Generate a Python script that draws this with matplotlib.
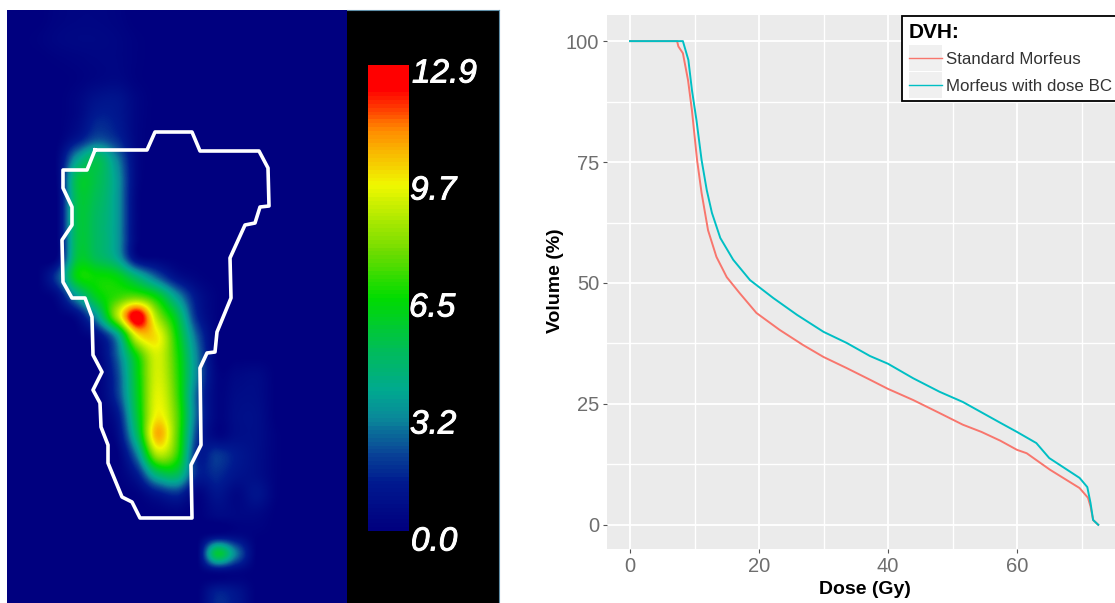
import numpy as np
import matplotlib
matplotlib.use("Agg")
import matplotlib.pyplot as plt
import matplotlib.patheffects as pe
from matplotlib.colors import LinearSegmentedColormap
from matplotlib.legend_handler import HandlerLine2D
from matplotlib.lines import Line2D
from matplotlib.patches import Rectangle

plt.rcParams['font.family'] = ['Liberation Sans', 'DejaVu Sans']

# dose map, cells of about 20 px, rows from the top
dose_grid = [
    [0, 0, .2, .3, .3, .2, 0, 0, 0, 0, 0, 0, 0, 0, 0, 0, 0],
    [0, .1, .3, .4, .4, .3, .1, 0, 0, 0, 0, 0, 0, 0, 0, 0, 0],
    [0, 0, .1, .2, .3, .3, .1, 0, 0, 0, 0, 0, 0, 0, 0, 0, 0],
    [0, 0, 0, .1, .3, .4, .1, 0, 0, 0, 0, 0, 0, 0, 0, 0, 0],
    [0, 0, 0, .3, .9, 1.0, .3, 0, 0, 0, 0, 0, 0, 0, 0, 0, 0],
    [0, 0, 0, .4, 1.4, 1.2, .3, 0, 0, 0, 0, 0, 0, 0, 0, 0, 0],
    [0, 0, 0, 1.0, 2.2, 1.6, .3, 0, 0, 0, 0, 0, 0, 0, 0, 0, 0],
    [0, 0, .2, 3.5, 5.0, 3.0, .4, 0, 0, 0, 0, 0, 0, 0, 0, 0, 0],
    [0, 0, .2, 5.2, 5.2, 3.5, .4, 0, 0, 0, 0, 0, 0, 0, 0, 0, 0],
    [0, 0, .1, 5.2, 5.0, 3.5, .3, 0, 0, 0, 0, 0, 0, 0, 0, 0, 0],
    [0, 0, .1, 5.2, 4.8, 3.5, .3, 0, 0, 0, 0, 0, 0, 0, 0, 0, 0],
    [0, 0, .1, 5.2, 4.8, 3.5, .3, 0, 0, 0, 0, 0, 0, 0, 0, 0, 0],
    [0, 0, .2, 5.4, 5.0, 3.8, .5, .1, 0, 0, 0, 0, 0, 0, 0, 0, 0],
    [0, 0, 2.0, 6.2, 6.5, 6.2, 4.5, 2.5, .8, .2, 0, 0, 0, 0, 0, 0, 0],
    [0, 0, .5, 3.5, 6.0, 7.0, 7.5, 6.2, 3.5, 1.0, .1, 0, 0, 0, 0, 0, 0],
    [0, 0, 0, .6, 3.5, 8.5, 12.9, 8.5, 5.5, 1.5, .1, 0, 0, 0, 0, 0, 0],
    [0, 0, 0, 0, .7, 3.5, 9.5, 9.8, 6.4, 2.5, .1, 0, 0, 0, 0, 0, 0],
    [0, 0, 0, 0, .1, 2.5, 6.5, 9.2, 6.8, 3.0, .1, 0, 0, 0, 0, 0, 0],
    [0, 0, 0, 0, 0, 2.0, 6.0, 9.2, 7.0, 3.0, .3, .4, .5, 0, 0, 0, 0],
    [0, 0, 0, 0, 0, 1.8, 5.8, 9.4, 7.2, 2.5, .3, .6, .6, 0, 0, 0, 0],
    [0, 0, 0, 0, 0, 1.0, 5.5, 9.7, 7.5, 2.5, .3, .7, .7, 0, 0, 0, 0],
    [0, 0, 0, 0, 0, .5, 4.8, 10.6, 7.5, 2.0, .3, .7, .7, .1, 0, 0, 0],
    [0, 0, 0, 0, 0, 0, 3.0, 8.5, 7.0, 1.5, 1.8, 1.2, .7, .1, 0, 0, 0],
    [0, 0, 0, 0, 0, 0, 1.2, 4.5, 5.0, 1.5, 1.6, 1.0, .7, .1, 0, 0, 0],
    [0, 0, 0, 0, 0, 0, .1, 1.0, 1.6, .2, 1.0, .4, 1.0, .1, 0, 0, 0],
    [0, 0, 0, 0, 0, 0, 0, 0, .1, 0, .5, .4, .4, 0, 0, 0, 0],
    [0, 0, 0, 0, 0, 0, 0, 0, 0, 0, .2, .3, .1, 0, 0, 0, 0],
    [0, 0, 0, 0, 0, 0, 0, 0, 0, 0, 5.5, 2.8, 0, 0, 0, 0, 0],
    [0, 0, 0, 0, 0, 0, 0, 0, 0, 0, .2, .2, 0, 0, 0, 0, 0],
    [0, 0, 0, 0, 0, 0, 0, 0, 0, 0, 1.4, 1.0, 0, 0, 0, 0, 0],
]

# outline of the structure, in picture pixels
outline_x = [95, 147, 155, 192, 200, 259, 268, 269, 260, 255, 245, 230, 231, 217, 215, 207, 200, 201, 191, 192,
             140, 132, 122, 108, 108, 101, 100, 93, 102, 93, 92, 85, 72, 63, 62, 72, 72, 63, 63, 87, 95]
outline_y = [150, 150, 132, 132, 151, 151, 168, 206, 207, 223, 225, 258, 298, 332, 352, 353, 368, 445, 465, 518,
             518, 502, 497, 463, 445, 427, 403, 390, 372, 355, 317, 298, 298, 282, 240, 225, 207, 188, 170, 170, 150]

bar_labels = ['12.9', '9.7', '6.5', '3.2', '0.0']
bar_label_x = [412, 410, 409, 410, 411]
bar_label_y = [74, 191, 308, 425, 542]

# DVH curves
std_dose = [0, 7.3, 7.5, 8.2, 9.0, 9.6, 10.4, 11.1, 12.1, 13.4, 15, 17, 19.6, 23.2, 26.8, 30, 33.6, 37.2, 40, 43.9,
            48, 51.6, 54.5, 57.4, 60, 61.5, 65.1, 69.7, 71, 71.4, 71.8, 72.6]
std_vol = [100, 100, 98.9, 97.5, 91.9, 85.7, 75.4, 68.6, 60.9, 55.4, 51.2, 47.9, 43.8, 40.3, 37.2, 34.7, 32.4, 30,
           28.1, 25.8, 23.1, 20.7, 19.2, 17.4, 15.5, 14.8, 11.4, 7.6, 5.6, 3.8, 1, 0]
bc_dose = [0, 8.2, 9.05, 9.6, 10.3, 11.1, 11.9, 12.7, 14, 16, 18.6, 22.2, 25.9, 30, 33.6, 37.2, 40, 43.9, 48, 51.6,
           54.7, 57.4, 60, 63, 65, 69.7, 70.9, 71.4, 71.8, 72.6]
bc_vol = [100, 100, 96.1, 89.9, 83.7, 75.4, 69.2, 64.5, 59.3, 54.8, 50.6, 46.9, 43.4, 39.9, 37.6, 34.9, 33.3, 30.3,
          27.5, 25.4, 23.1, 21.1, 19.2, 16.9, 13.8, 9.7, 7.8, 4.5, 1, 0]
series_names = ['Standard Morfeus', 'Morfeus with dose BC']
x_ticks = [0, 20, 40, 60]
y_ticks = [0, 25, 50, 75, 100]

W, H = 1115, 603


def px_axes(x0, y0, x1, y1):
    return fig.add_axes([x0 / W, 1 - y1 / H, (x1 - x0) / W, (y1 - y0) / H])


dose_cmap = LinearSegmentedColormap.from_list('dose', [
    (0, '#00007f'), (.1, '#001a90'), (.17, '#0a4a98'), (.24, '#0a8a9a'), (.3, '#00aa90'), (.4, '#00c050'),
    (.5, '#00dc00'), (.6, '#70dc00'), (.745, '#f0f800'), (.86, '#ff9000'), (.95, '#ff0000'), (1, '#ff0000')])

fig = plt.figure(figsize=(W / 100, H / 100), dpi=100, facecolor='white')

# black panel with the colour scale
ax_black = px_axes(347, 10, 499, 603)
ax_black.set_facecolor('black')
ax_black.set_xticks([])
ax_black.set_yticks([])
for s in ax_black.spines.values():
    s.set_visible(False)
ax_black.spines['top'].set_visible(True)
ax_black.spines['right'].set_visible(True)
ax_black.spines['top'].set_color('#5f8fa8')
ax_black.spines['right'].set_color('#5f8fa8')

ax_bar = px_axes(368, 65, 409, 531)
ax_bar.imshow(np.linspace(12.9, 0, 120)[:, None], aspect='auto', cmap=dose_cmap, vmin=0, vmax=12.9,
              interpolation='nearest')
ax_bar.axis('off')

for lab, lx, ly in zip(bar_labels, bar_label_x, bar_label_y):
    t = fig.text(lx / W, 1 - ly / H, lab, color='white', fontsize=24, style='italic', ha='left', va='center')
    t.set_path_effects([pe.withStroke(linewidth=0.7, foreground='white')])

# dose map
ax_map = px_axes(7, 10, 347, 603)
ax_map.imshow(np.array(dose_grid), extent=(7, 347, 603, 10), aspect='auto', cmap=dose_cmap, vmin=0, vmax=12.9,
              interpolation='catrom')
ax_map.plot(outline_x, outline_y, color='white', lw=2.6, solid_joinstyle='round')
ax_map.set_xlim(7, 347)
ax_map.set_ylim(603, 10)
ax_map.axis('off')

# DVH plot
ax = px_axes(607, 15, W, 549)
ax.set_facecolor('#ebebeb')
ax.plot(std_dose, std_vol, color='#F8766D', lw=1.4, label=series_names[0])
ax.plot(bc_dose, bc_vol, color='#00BFC4', lw=1.4, label=series_names[1])
ax.set_xlim((607 - 630) / 6.45, (W - 630) / 6.45)
ax.set_ylim(-5, 105.4)
ax.set_xticks(x_ticks)
ax.set_yticks(y_ticks)
ax.set_xticks([10, 30, 50, 70], minor=True)
ax.set_yticks([12.5, 37.5, 62.5, 87.5], minor=True)
ax.grid(True, which='major', color='white', lw=1.3)
ax.grid(True, which='minor', color='white', lw=1.0)
ax.set_axisbelow(True)
ax.tick_params(which='minor', length=0)
ax.tick_params(which='major', length=3, color='#555555', labelcolor='#6e6e6e', labelsize=14.5, pad=2.5)
for s in ax.spines.values():
    s.set_visible(False)
fig.text(865 / W, 1 - 589 / H, 'Dose (Gy)', fontsize=14, fontweight='bold', ha='center', va='center')
fig.text(555 / W, 1 - 281 / H, 'Volume (%)', fontsize=14, fontweight='bold', rotation=90, ha='center', va='center')


class GreyKey(HandlerLine2D):
    def create_artists(self, legend, orig_handle, xdescent, ydescent, width, height, fontsize, trans):
        back = Rectangle((-xdescent, -ydescent - 5), width, height + 10, facecolor='#f0f0f0', edgecolor='none',
                         transform=trans)
        return [back] + super().create_artists(legend, orig_handle, xdescent, ydescent, width, height, fontsize, trans)


handles = [Line2D([], [], color='#F8766D', lw=1.0), Line2D([], [], color='#00BFC4', lw=1.0)]
leg = ax.legend(handles, series_names, title='DVH:', loc='upper left',
                bbox_to_anchor=((902 - 607) / (W - 607), 1 - 1 / 534), borderaxespad=0, fancybox=False,
                framealpha=1, edgecolor='black', fontsize=12.2, labelcolor='#333333', alignment='left',
                handler_map={Line2D: GreyKey()}, handlelength=1.95, handletextpad=0.2, labelspacing=0.72,
                borderpad=0.42, title_fontproperties={'weight': 'bold', 'size': 15})
leg.get_frame().set_linewidth(1.3)
leg._legend_box.sep = 7

fig.savefig('out.png', dpi=100)
